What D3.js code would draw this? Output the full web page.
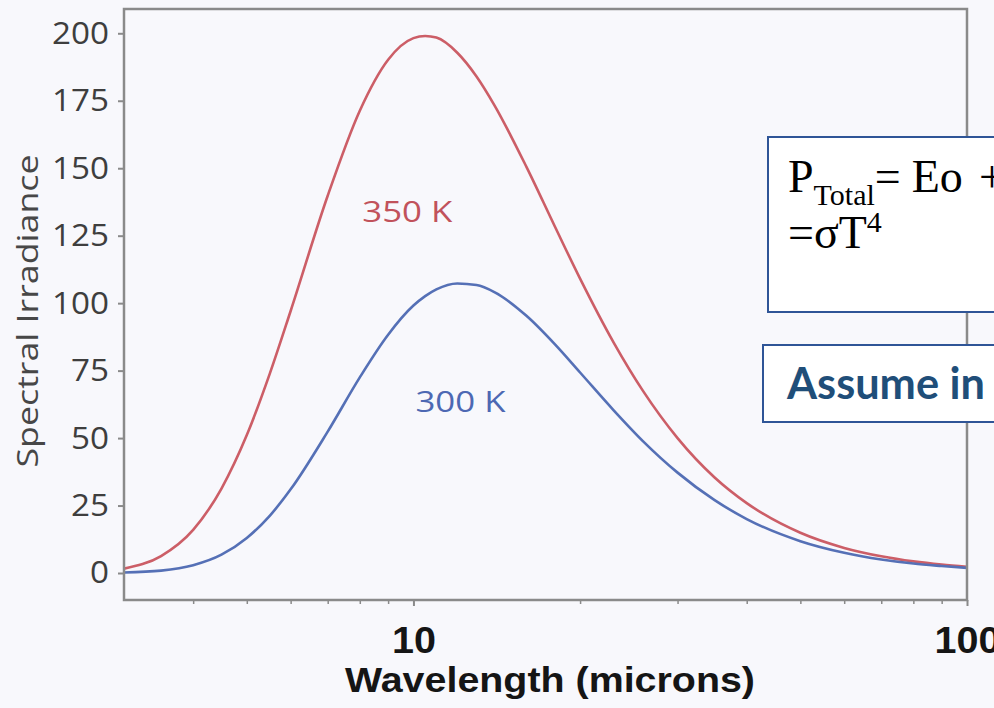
<!DOCTYPE html>
<html>
<head>
<meta charset="utf-8">
<script src="https://cdn.jsdelivr.net/npm/d3@7/dist/d3.min.js"></script>
<style>
  html, body { margin: 0; padding: 0; background: #f8f8fc; }
  svg { display: block; }
</style>
</head>
<body>
<div id="chart"><svg width="994" height="708"></svg></div>
<script>
// values
const wavelengths = [3, 3.5, 4, 4.5, 5, 5.5, 6, 7, 8, 9, 10, 10.5, 11, 12, 13, 14, 16, 18, 20, 23, 26, 30, 35, 40, 50, 60, 70, 80, 90, 100];
const irradiance350 = [1.6, 6.3, 16.0, 31.3, 51.1, 73.8, 97.1, 139.8, 171.3, 190.2, 198.2, 199.0, 198.4, 192.8, 184.0, 173.4, 150.5, 128.5, 109.1, 85.4, 67.4, 50.0, 35.4, 25.9, 14.9, 9.3, 6.2, 4.3, 3.1, 2.3];
const irradiance300 = [0.2, 0.9, 2.9, 6.8, 13.0, 21.2, 31.0, 52.4, 72.5, 88.3, 99.1, 102.6, 105.1, 107.3, 106.7, 104.1, 95.3, 84.8, 74.3, 60.3, 48.8, 37.2, 27.0, 20.0, 11.8, 7.5, 5.0, 3.5, 2.6, 1.9];
const seriesNames = ['350 K', '300 K'];
const yTicks = [0, 25, 50, 75, 100, 125, 150, 175, 200];
const xMajorTicks = [10, 100];
const xMinorTicks = [4, 5, 6, 7, 8, 9, 20, 30, 40, 50, 60, 70, 80, 90];

const SVG = d3.select('#chart svg');
const MARGIN = { left: 124, right: 27, top: 9, bottom: 108 };
const WIDTH = 994 - MARGIN.left - MARGIN.right;
const HEIGHT = 708 - MARGIN.top - MARGIN.bottom;

const SERIES = [
  { name: seriesNames[0], values: irradiance350, color: '#cc5e67', labelColor: '#c1525b', labelAt: [9.75, 130] },
  { name: seriesNames[1], values: irradiance300, color: '#5570b6', labelColor: '#4d68b3', labelAt: [12.16, 59.6] }
];

const X_SCALE = d3.scaleLog().domain([3, 100]).range([0, WIDTH]);
const Y_SCALE = d3.scaleLinear().domain([-10, 209]).range([HEIGHT, 0]);

const plot = SVG.append('g').attr('transform', `translate(${MARGIN.left},${MARGIN.top})`);

plot.append('clipPath').attr('id', 'clip')
  .append('rect').attr('width', WIDTH).attr('height', HEIGHT);

const line = d3.line()
  .x(d => X_SCALE(d[0]))
  .y(d => Y_SCALE(d[1]))
  .curve(d3.curveMonotoneX);

plot.selectAll('path.series')
  .data(SERIES)
  .join('path')
  .attr('class', 'series')
  .attr('clip-path', 'url(#clip)')
  .attr('d', s => line(wavelengths.map((w, i) => [w, s.values[i]])))
  .attr('fill', 'none')
  .attr('stroke', s => s.color)
  .attr('stroke-width', 2.6);

plot.selectAll('text.series-label')
  .data(SERIES)
  .join('text')
  .attr('class', 'series-label')
  .text(s => s.name)
  .attr('x', s => X_SCALE(s.labelAt[0]))
  .attr('y', s => Y_SCALE(s.labelAt[1]))
  .attr('fill', s => s.labelColor)
  .attr('textLength', 90)
  .attr('lengthAdjust', 'spacingAndGlyphs')
  .style('text-anchor', 'middle')
  .style('font-family', '"Open Sans", sans-serif')
  .style('font-size', '29px');

// y axis
const yAxis = plot.append('g')
  .call(d3.axisLeft(Y_SCALE).tickValues(yTicks).tickSize(6).tickPadding(9));
yAxis.select('.domain').remove();
yAxis.selectAll('.tick line').attr('stroke', '#8a8a8a').attr('stroke-width', 2);
yAxis.selectAll('.tick text')
  .attr('fill', '#3e3e3e')
  .attr('textLength', d => String(d).length * 19)
  .attr('lengthAdjust', 'spacingAndGlyphs')
  .style('font-family', '"Open Sans", sans-serif')
  .style('font-size', '31px');

// x axis, minor ticks
const xMinor = plot.append('g')
  .attr('transform', `translate(0,${HEIGHT})`)
  .call(d3.axisBottom(X_SCALE).tickValues(xMinorTicks).tickSize(4).tickFormat(''));
xMinor.select('.domain').remove();
xMinor.selectAll('.tick line').attr('stroke', '#8a8a8a').attr('stroke-width', 1.5);

// x axis, major ticks
const xMajor = plot.append('g')
  .attr('transform', `translate(0,${HEIGHT})`)
  .call(d3.axisBottom(X_SCALE).tickValues(xMajorTicks).tickSize(6).tickFormat(d3.format('d')));
xMajor.select('.domain').remove();
xMajor.selectAll('.tick line').attr('stroke', '#8a8a8a').attr('stroke-width', 2);
xMajor.selectAll('.tick text')
  .attr('y', 53)
  .attr('dy', 0)
  .attr('fill', '#151515')
  .attr('textLength', d => String(d).length * 22)
  .attr('lengthAdjust', 'spacingAndGlyphs')
  .style('font-family', '"Liberation Sans", Arial, sans-serif')
  .style('font-weight', 'bold')
  .style('font-size', '36px');

// frame
plot.append('rect')
  .attr('width', WIDTH)
  .attr('height', HEIGHT)
  .attr('fill', 'none')
  .attr('stroke', '#8a8a8a')
  .attr('stroke-width', 2.5);

// axis titles
SVG.append('text')
  .text('Spectral Irradiance')
  .attr('transform', 'translate(38,311) rotate(-90)')
  .attr('fill', '#474747')
  .attr('textLength', 313)
  .attr('lengthAdjust', 'spacingAndGlyphs')
  .style('text-anchor', 'middle')
  .style('font-family', '"Open Sans", sans-serif')
  .style('font-size', '29px');

SVG.append('text')
  .text('Wavelength (microns)')
  .attr('x', 550)
  .attr('y', 692)
  .attr('fill', '#151515')
  .attr('textLength', 410)
  .attr('lengthAdjust', 'spacingAndGlyphs')
  .style('text-anchor', 'middle')
  .style('font-family', '"Liberation Sans", Arial, sans-serif')
  .style('font-weight', 'bold')
  .style('font-size', '35px');

// overlaid boxes
SVG.append('rect')
  .attr('x', 768).attr('y', 137)
  .attr('width', 260).attr('height', 175)
  .attr('fill', '#ffffff')
  .attr('stroke', '#2f5597')
  .attr('stroke-width', 2);

const formula = SVG.append('g')
  .style('font-family', '"Liberation Serif", "Times New Roman", serif')
  .attr('fill', '#000');

const line1 = formula.append('text').attr('x', 788).attr('y', 192).style('font-size', '46px');
line1.append('tspan').text('P');
line1.append('tspan').text('Total').attr('dy', 13).style('font-size', '30px');
line1.append('tspan').text('=').attr('dy', -13);
line1.append('tspan').text('Eo').attr('dx', 11);
line1.append('tspan').text('+').attr('dx', 16);

const line2 = formula.append('text').attr('x', 788).attr('y', 248).style('font-size', '46px');
line2.append('tspan').text('=σT');
line2.append('tspan').text('4').attr('dy', -16).style('font-size', '30px');

SVG.append('rect')
  .attr('x', 763).attr('y', 345)
  .attr('width', 260).attr('height', 77)
  .attr('fill', '#ffffff')
  .attr('stroke', '#2f5597')
  .attr('stroke-width', 2);

SVG.append('text')
  .text('Assume in')
  .attr('x', 787)
  .attr('y', 399)
  .attr('fill', '#1f4e79')
  .attr('textLength', 198)
  .attr('lengthAdjust', 'spacingAndGlyphs')
  .style('font-family', 'Lato, "Open Sans", sans-serif')
  .style('font-weight', 'bold')
  .style('font-size', '43px');
</script>
</body>
</html>
